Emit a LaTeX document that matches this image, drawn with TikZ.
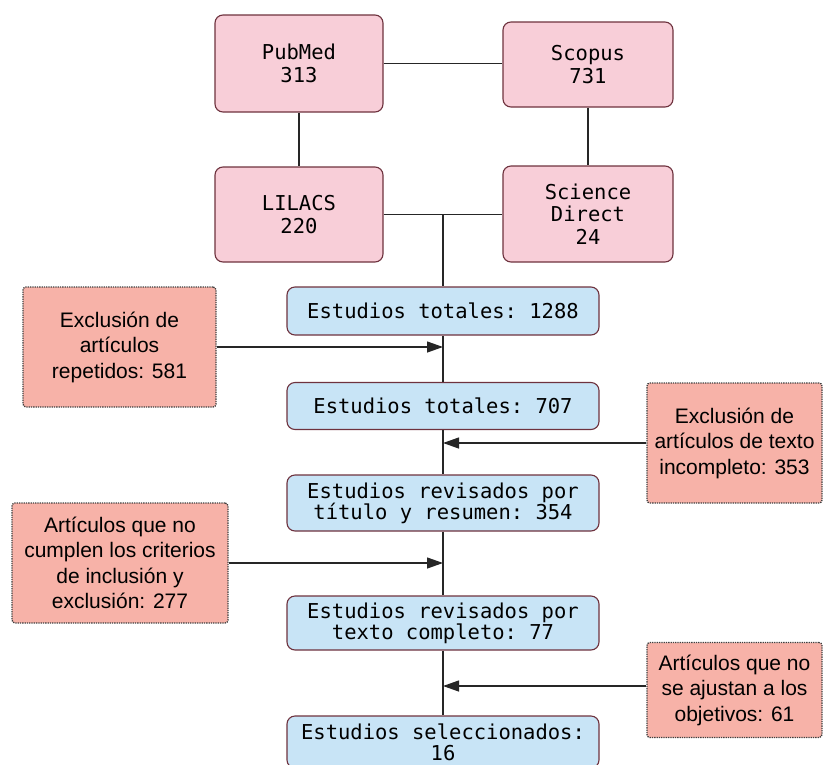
\documentclass[tikz,border=0pt]{standalone}
\usepackage{fontspec}
\setmainfont{Liberation Sans}
\setmonofont{DejaVu Sans Mono}
\usetikzlibrary{arrows.meta}
\definecolor{srcfill}{RGB}{248,206,216}
\definecolor{stepfill}{RGB}{200,228,246}
\definecolor{exclfill}{RGB}{247,178,168}
\definecolor{boxline}{RGB}{110,50,62}
\begin{document}
\begin{tikzpicture}[x=1pt,y=-1pt]
\tikzstyle{line} = [line width=1.3pt, color=black!85] % standard connector
\tikzstyle{arrow} = [line, -{Triangle[length=16pt,width=11pt]}] % connector with filled tip
\tikzstyle{source} = [draw=boxline, line width=1.1pt, fill=srcfill, rounded corners=8pt, inner sep=0pt, align=center, font=\ttfamily\fontsize{20.5}{22.5}\selectfont] % data base block
\tikzstyle{stage} = [draw=boxline, line width=1.1pt, fill=stepfill, rounded corners=8pt, inner sep=0pt, minimum width=312pt, align=center, font=\ttfamily\fontsize{20.5}{21}\selectfont] % study count block
\tikzstyle{excl} = [draw=black!75, densely dotted, line width=1.3pt, fill=exclfill, rounded corners=3pt, inner sep=0pt, minimum height=120pt, align=center, font=\fontsize{21}{25.5}\selectfont] % exclusion block
\useasboundingbox (0,0) rectangle (831,764); % fix picture size
% data bases
\node(pubmed)[source, minimum width=168pt, minimum height=97pt] at (299,63.5){PubMed\\313};
\node(scopus)[source, minimum width=170pt, minimum height=85pt] at (588,64.5){Scopus\\731};
\node(lilacs)[source, minimum width=168pt, minimum height=95pt] at (299,214.5){LILACS\\220};
\node(scidir)[source, minimum width=170pt, minimum height=96pt] at (588,214){Science\\Direct\\24};
\draw[line](pubmed.east)--(scopus.west|-pubmed.east);
\draw[line](pubmed.south)--(lilacs.north);
\draw[line](scopus.south)--(scidir.north);
\draw[line](lilacs.east)--(scidir.west|-lilacs.east);
% study counts along the main line
\node(total)[stage, minimum height=48pt] at (443,311){Estudios totales: 1288};
\node(unique)[stage, minimum height=47pt] at (443,406){Estudios totales: 707};
\node(abstract)[stage, minimum height=56pt] at (443,503){Estudios revisados por\\título y resumen: 354};
\node(fulltext)[stage, minimum height=54pt] at (443,623){Estudios revisados por\\texto completo: 77};
\node(selected)[stage, minimum height=52pt] at (443,742){Estudios seleccionados:\\16};
\coordinate(join) at (total.north|-lilacs.east); % junction of the data bases
\draw[line](join)--(total.north);
\draw[line](total.south)--(unique.north);
\draw[line](unique.south)--(abstract.north);
\draw[line](abstract.south)--(fulltext.north);
\draw[line](fulltext.south)--(selected.north);
% exclusions
\node(dupl)[excl, minimum width=193pt] at (119.5,347){Exclusión de\\artículos\\repetidos: 581};
\node(incomp)[excl, minimum width=175pt] at (734.5,443){Exclusión de\\artículos de texto\\incompleto: 353};
\node(criteria)[excl, minimum width=216pt] at (120,563){Artículos que no\\cumplen los criterios\\de inclusión y\\exclusión: 277};
\node(aims)[excl, minimum width=175pt, minimum height=95pt] at (734.5,690){Artículos que no\\se ajustan a los\\objetivos: 61};
\draw[arrow](dupl.east)--(dupl.east-|total.south);
\draw[arrow](incomp.west)--(incomp.west-|unique.south);
\draw[arrow](criteria.east)--(criteria.east-|abstract.south);
\draw[arrow]([yshift=4pt]aims.west)--([yshift=4pt]aims.west-|fulltext.south);
\end{tikzpicture}
\end{document}
